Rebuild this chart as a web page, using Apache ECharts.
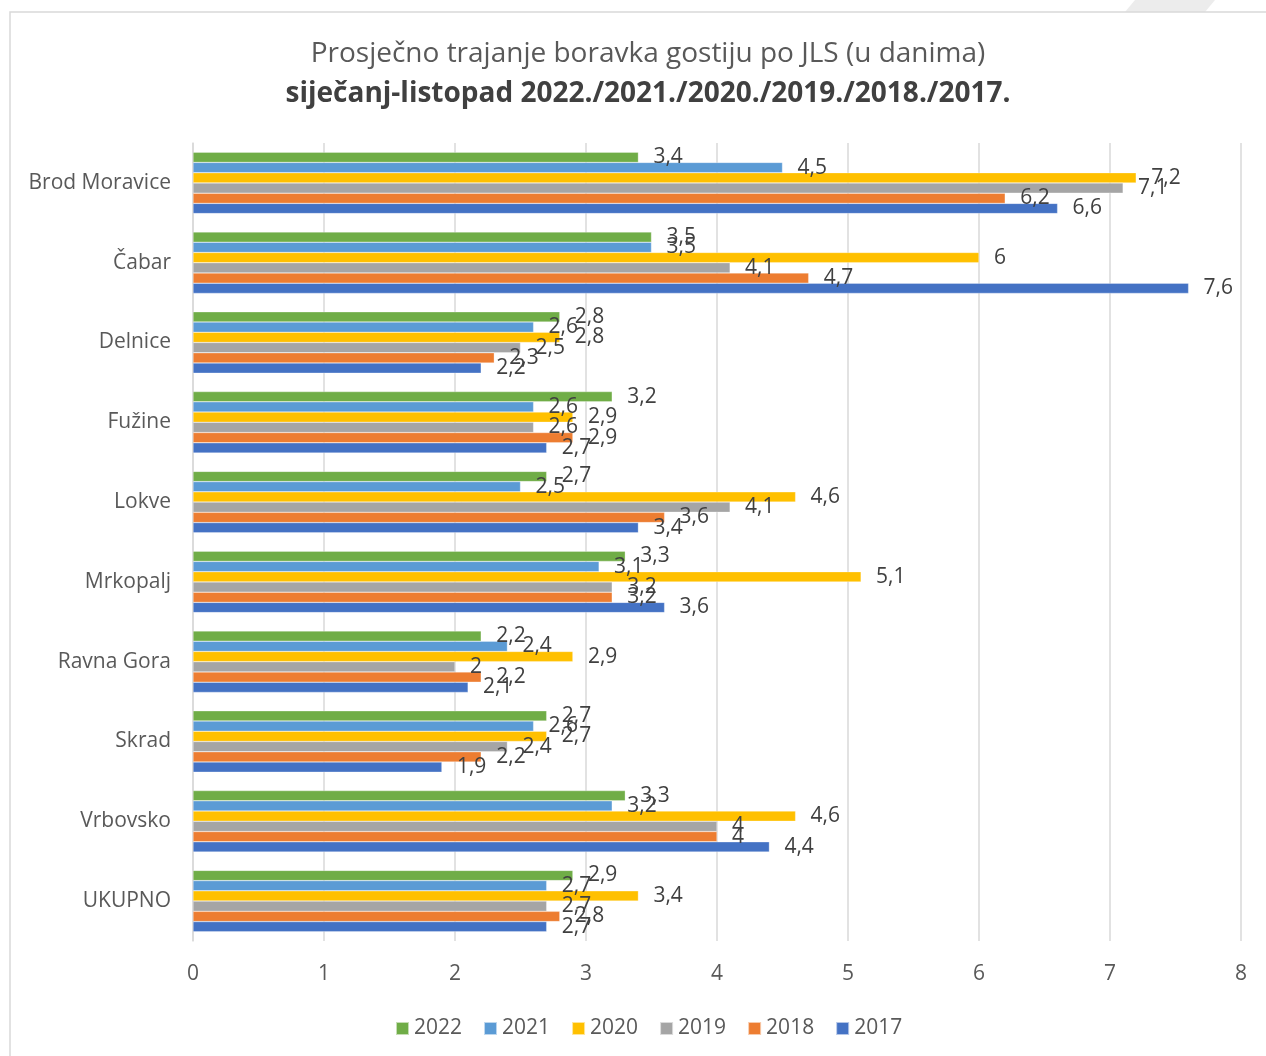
<!DOCTYPE html>
<html>
<head>
<meta charset="utf-8">
<script src="https://cdn.jsdelivr.net/npm/echarts@6/dist/echarts.min.js"></script>
<style>
html,body{margin:0;padding:0;background:#fff;}
#c{width:1266px;height:1056px;}
</style>
</head>
<body>
<div id="c"></div>
<script>
const categories = ['Brod Moravice','Čabar','Delnice','Fužine','Lokve','Mrkopalj','Ravna Gora','Skrad','Vrbovsko','UKUPNO'];
const years = ['2022','2021','2020','2019','2018','2017'];
const v2022 = [3.4,3.5,2.8,3.2,2.7,3.3,2.2,2.7,3.3,2.9];
const v2021 = [4.5,3.5,2.6,2.6,2.5,3.1,2.4,2.6,3.2,2.7];
const v2020 = [7.2,6,2.8,2.9,4.6,5.1,2.9,2.7,4.6,3.4];
const v2019 = [7.1,4.1,2.5,2.6,4.1,3.2,2,2.4,4,2.7];
const v2018 = [6.2,4.7,2.3,2.9,3.6,3.2,2.2,2.2,4,2.8];
const v2017 = [6.6,7.6,2.2,2.7,3.4,3.6,2.1,1.9,4.4,2.7];
const xTicks = [0,1,2,3,4,5,6,7,8];
const colors = ['#70AD47','#5B9BD5','#FFC000','#A5A5A5','#ED7D31','#4472C4'];
const seriesValues = [v2022,v2021,v2020,v2019,v2018,v2017];
const FONT = 'Open Sans';

const chart = echarts.init(document.getElementById('c'));
chart.setOption({
  backgroundColor:'#ffffff',
  textStyle:{fontFamily:FONT},
  animation:false,
  graphic:[
    {type:'polygon',silent:true,z:-10,shape:{points:[[1135,0],[1215,0],[1205,12],[1125,12]]},style:{fill:'#ececec'}},
    {type:'rect',silent:true,z:-5,shape:{x:10,y:12,width:1300,height:1100},style:{fill:'#ffffff',stroke:'#d9d9d9',lineWidth:1.5}}
  ],
  title:[
    {text:'Prosječno trajanje boravka gostiju po JLS (u danima)',left:643,top:35,textAlign:'center',
     textStyle:{fontFamily:FONT,fontSize:28,fontWeight:'normal',color:'#595959'}},
    {text:'siječanj-listopad 2022./2021./2020./2019./2018./2017.',left:643,top:75,textAlign:'center',
     textStyle:{fontFamily:FONT,fontSize:28,fontWeight:'bold',color:'#404040'}}
  ],
  legend:{
    data:years,bottom:12,left:390,itemWidth:13,itemHeight:13,itemGap:21,
    icon:'rect',
    textStyle:{fontFamily:FONT,fontSize:21,color:'#595959'}
  },
  grid:{left:193,right:25,top:143,bottom:115,containLabel:false},
  xAxis:{
    type:'value',min:0,max:8,interval:1,
    axisLine:{show:false},axisTick:{show:false},
    splitLine:{show:true,lineStyle:{color:'#d9d9d9',width:1.5}},
    axisLabel:{fontFamily:FONT,fontSize:21,color:'#595959',margin:23,
      formatter:v=>xTicks.includes(v)?String(v):''}
  },
  yAxis:{
    type:'category',data:categories,inverse:true,
    axisLine:{show:true,lineStyle:{color:'#d9d9d9',width:1.5}},
    axisTick:{show:false},
    axisLabel:{fontFamily:FONT,fontSize:21,color:'#595959',margin:22}
  },
  series:years.map((y,i)=>({
    name:y,type:'bar',data:seriesValues[i],
    barGap:'0%',barCategoryGap:'23%',
    itemStyle:{color:colors[i],borderColor:'rgba(255,255,255,0.6)',borderWidth:0.5},
    label:{show:true,position:'right',distance:15,fontFamily:FONT,fontSize:21,color:'#404040',
      formatter:p=>String(p.value).replace('.',',')}
  }))
});
</script>
</body>
</html>
